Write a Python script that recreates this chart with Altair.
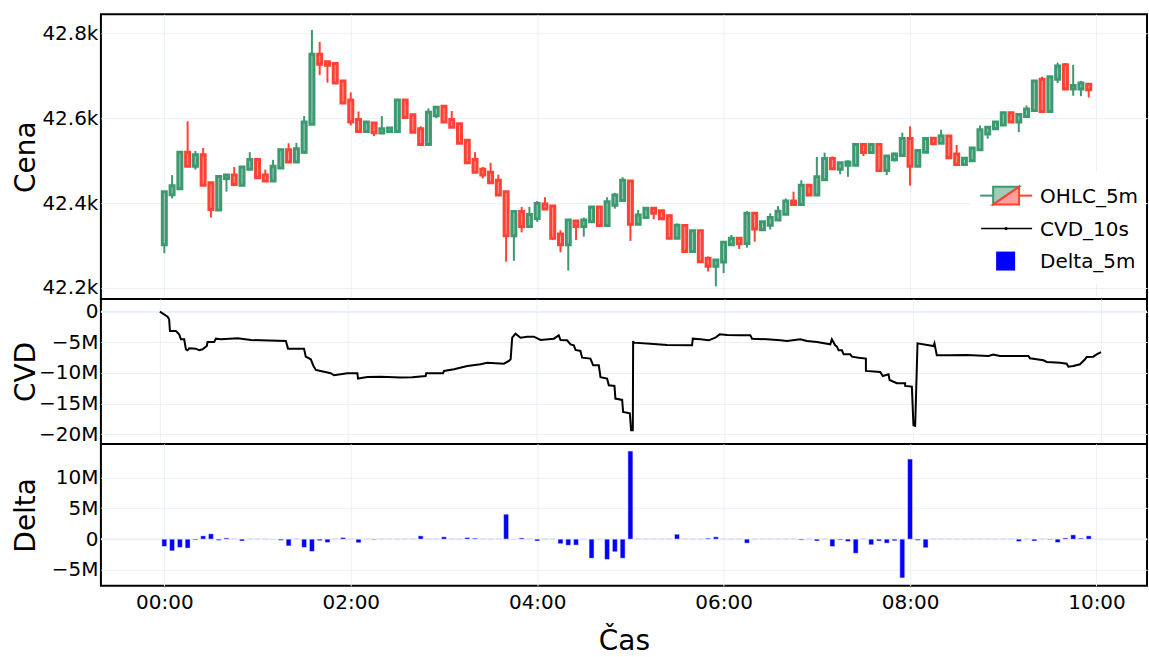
import altair as alt
import pandas as pd

# ---- 5-minute candles, 00:00 .. 09:55 ----
opens = [42302, 42420, 42434, 42520, 42487, 42514, 42448, 42384, 42458, 42466,
         42442, 42480, 42503, 42466, 42452, 42483, 42526, 42497, 42520, 42586,
         42751, 42733, 42729, 42688, 42643, 42597, 42569, 42589, 42565, 42569,
         42569, 42643, 42608, 42575, 42538, 42606, 42628, 42597, 42587, 42548,
         42503, 42480, 42473, 42454, 42427, 42323, 42380, 42345, 42364, 42398,
         42393, 42327, 42302, 42358, 42345, 42356, 42391, 42347, 42395, 42406,
         42452, 42350, 42366, 42388, 42382, 42370, 42317, 42347, 42286, 42335,
         42270, 42251, 42261, 42302, 42317, 42305, 42376, 42337, 42348, 42360,
         42374, 42405, 42397, 42442, 42419, 42455, 42505, 42480, 42489, 42489,
         42538, 42519, 42538, 42477, 42502, 42512, 42552, 42487, 42520, 42553,
         42541, 42558, 42516, 42491, 42500, 42526, 42563, 42575, 42584, 42613,
         42591, 42604, 42618, 42692, 42616, 42692, 42726, 42669, 42669, 42680]
highs = [42427, 42466, 42520, 42593, 42523, 42530, 42448, 42463, 42468, 42485,
         42487, 42520, 42505, 42479, 42502, 42528, 42541, 42542, 42605, 42808,
         42780, 42735, 42731, 42688, 42661, 42616, 42592, 42591, 42605, 42577,
         42643, 42643, 42608, 42581, 42623, 42626, 42630, 42617, 42587, 42550,
         42520, 42485, 42495, 42467, 42427, 42380, 42391, 42391, 42405, 42414,
         42393, 42336, 42360, 42358, 42366, 42391, 42391, 42414, 42424, 42461,
         42452, 42384, 42389, 42388, 42382, 42373, 42352, 42347, 42335, 42335,
         42274, 42266, 42308, 42325, 42317, 42381, 42376, 42358, 42376, 42393,
         42411, 42427, 42454, 42442, 42509, 42519, 42510, 42497, 42501, 42538,
         42538, 42540, 42538, 42513, 42519, 42566, 42581, 42526, 42554, 42553,
         42573, 42558, 42537, 42508, 42530, 42583, 42581, 42593, 42615, 42615,
         42611, 42630, 42688, 42698, 42698, 42731, 42730, 42726, 42688, 42682]
lows = [42282, 42411, 42434, 42487, 42479, 42442, 42366, 42384, 42427, 42444,
        42440, 42480, 42458, 42452, 42452, 42481, 42497, 42495, 42516, 42586,
        42702, 42684, 42683, 42636, 42583, 42569, 42569, 42558, 42564, 42569,
        42565, 42602, 42567, 42536, 42536, 42600, 42591, 42579, 42541, 42495,
        42471, 42458, 42448, 42419, 42262, 42264, 42331, 42345, 42356, 42386,
        42313, 42284, 42241, 42313, 42321, 42356, 42347, 42347, 42387, 42403,
        42311, 42348, 42364, 42362, 42363, 42317, 42317, 42286, 42286, 42262,
        42239, 42204, 42235, 42302, 42292, 42295, 42309, 42336, 42338, 42360,
        42374, 42397, 42397, 42417, 42419, 42455, 42481, 42468, 42462, 42487,
        42511, 42519, 42477, 42466, 42498, 42510, 42441, 42487, 42518, 42540,
        42541, 42507, 42491, 42491, 42500, 42524, 42552, 42575, 42584, 42591,
        42567, 42604, 42618, 42616, 42616, 42683, 42669, 42653, 42652, 42649]
closes = [42427, 42441, 42520, 42487, 42514, 42442, 42385, 42463, 42466, 42444,
          42485, 42503, 42460, 42452, 42487, 42526, 42497, 42528, 42591, 42751,
          42727, 42725, 42683, 42636, 42591, 42569, 42591, 42566, 42575, 42577,
          42643, 42602, 42567, 42538, 42614, 42626, 42591, 42579, 42541, 42495,
          42473, 42466, 42448, 42419, 42323, 42380, 42345, 42373, 42399, 42386,
          42317, 42302, 42360, 42345, 42360, 42391, 42347, 42403, 42419, 42454,
          42350, 42372, 42388, 42376, 42363, 42317, 42348, 42286, 42335, 42262,
          42251, 42266, 42308, 42317, 42304, 42376, 42339, 42356, 42366, 42381,
          42405, 42397, 42442, 42419, 42462, 42505, 42481, 42495, 42497, 42538,
          42519, 42538, 42477, 42511, 42516, 42552, 42487, 42524, 42552, 42540,
          42558, 42507, 42491, 42506, 42530, 42573, 42579, 42591, 42613, 42591,
          42609, 42622, 42688, 42616, 42698, 42723, 42669, 42677, 42683, 42667]

# ---- 5-minute delta, millions ----
delta_m = [-1.19, -1.9, -1.35, -1.46, -0.15, 0.54, 0.86, -0.2, 0.2, 0.05,
           -0.3, 0.05, 0.05, 0.05, -0.05, -0.2, -1.1, 0.05, -1.35, -2.0,
           -0.25, -0.55, 0.05, 0.27, 0.05, -0.6, 0.05, -0.1, 0.05, 0.05,
           0.05, 0.05, 0.05, 0.54, 0.05, 0.05, 0.38, 0.05, 0.05, 0.27,
           0.16, 0.05, 0.05, 0.05, 4.05, -0.05, 0.2, 0.05, -0.3, 0.05,
           0.05, -0.75, -1.0, -0.97, -0.05, -3.1, -0.05, -3.3, -2.05, -3.1,
           14.3, 0.05, 0.05, 0.05, 0.05, 0.05, 0.8, 0.05, 0.05, 0.05,
           0.16, 0.38, 0.05, 0.05, 0.05, -0.65, 0.05, 0.05, 0.05, 0.05,
           0.05, 0.05, -0.15, 0.05, -0.3, 0.05, -1.2, -0.15, -0.38, -2.3,
           0.05, -0.92, -0.3, -0.65, -0.27, -6.3, 13.0, -0.2, -1.4, 0.05,
           0.05, 0.05, 0.05, 0.05, 0.05, 0.05, 0.05, 0.05, 0.05, 0.05,
           -0.38, 0.05, -0.3, 0.05, -0.1, -0.54, 0.2, 0.7, 0.16, 0.54]

# ---- cumulative volume delta (10 s), minutes since 00:00 / millions ----
cvd_t = [0, 4.9, 5.9, 6.4, 10.2, 12.3, 13.4, 15.5, 16.6, 17.6,
         18.7, 22.9, 25.1, 27.2, 29.9, 30.4, 34.6, 35.7, 38.9, 49.5,
         58.0, 64.3, 80.3, 81.7, 91.9, 93.0, 96.2, 97.9, 99.4, 102.5,
         108.9, 111.0, 115.3, 119.5, 125.9, 126.3, 132.3, 140.8, 153.5, 160.9,
         169.4, 169.8, 180.5, 181.1, 187.5, 196.0, 204.4, 208.7, 219.3, 222.5,
         223.6, 224.6, 226.7, 229.9, 234.2, 238.4, 242.7, 251.2, 254.3, 255.4,
         259.6, 261.8, 263.9, 265.0, 268.1, 269.2, 274.5, 276.2, 279.8, 280.9,
         285.1, 286.2, 289.8, 290.4, 294.7, 295.3, 299.6, 300.4, 301.5, 301.7,
         302.1, 312.7, 323.3, 339.3, 339.7, 344.6, 349.9, 354.1, 356.9, 361.6,
         370.0, 376.4, 377.5, 387.0, 395.5, 399.8, 408.3, 412.5, 418.9, 427.4,
         428.4, 430.5, 431.6, 432.7, 434.8, 435.9, 440.1, 441.2, 445.4, 450.1,
         450.1, 459.2, 460.9, 464.5, 465.2, 469.8, 475.1, 475.1, 479.4, 480.4,
         481.5, 483.0, 493.2, 493.8, 495.3, 503.8, 514.4, 528.2, 531.4, 535.6,
         553.7, 554.7, 563.2, 565.4, 573.9, 578.1, 579.2, 582.3, 586.6, 589.8,
         590.8, 595.1, 597.2, 600.0]
cvd_m = [0, -0.82, -1.25, -3.15, -3.15, -3.70, -4.51, -4.51, -6.14, -6.30,
         -5.98, -6.03, -6.30, -6.14, -5.60, -4.95, -4.95, -4.40, -4.51, -4.35,
         -4.62, -4.67, -4.78, -6.03, -6.03, -7.34, -7.77, -8.86, -9.51, -9.67,
         -10.05, -10.38, -10.22, -10.05, -10.05, -10.92, -10.65, -10.60, -10.76, -10.71,
         -10.49, -10.05, -10.05, -9.67, -9.40, -8.86, -8.59, -8.32, -8.48, -8.04,
         -7.77, -4.24, -3.59, -4.24, -4.08, -4.08, -4.62, -4.40, -3.86, -4.62,
         -4.67, -5.33, -5.49, -6.25, -6.41, -7.50, -7.66, -8.75, -8.75, -10.68,
         -10.92, -12.01, -12.12, -14.18, -14.40, -16.36, -16.58, -19.35, -19.35, -4.78,
         -5.05, -5.22, -5.43, -5.49, -4.40, -4.51, -4.67, -4.24, -3.70, -3.80,
         -3.86, -3.86, -4.40, -4.51, -4.67, -4.78, -4.51, -4.78, -4.95, -5.33,
         -4.51, -5.49, -5.71, -6.30, -6.30, -6.96, -6.96, -7.34, -7.50, -7.66,
         -9.67, -9.84, -10.49, -10.22, -11.14, -11.68, -11.68, -12.12, -12.23, -18.53,
         -18.64, -5.16, -5.60, -5.16, -7.12, -7.12, -7.07, -7.23, -7.01, -7.23,
         -7.23, -7.61, -7.93, -8.21, -8.32, -8.48, -8.97, -8.86, -8.59, -7.77,
         -7.39, -7.34, -6.96, -6.58]

hour_ticks = [0, 120, 240, 360, 480, 600]
price_ticks = [42200, 42400, 42600, 42800]
cvd_ticks = [0, -5e6, -10e6, -15e6, -20e6]
delta_ticks = [-5e6, 0, 5e6, 10e6]

GREEN, RED = "#3D9970", "#FF4136"
GREEN_FILL, RED_FILL = "#9ECCB8", "#FFA09B"
GRID = "#EBF0F8"
FONT = "DejaVu Sans"

W = 1047
H_PRICE, H_CVD, H_DELTA = 285, 145, 142

candles = pd.DataFrame({
    "t": [5 * i for i in range(len(opens))],
    "open": opens, "high": highs, "low": lows, "close": closes,
})
candles["dir"] = ["up" if c >= o else "down" for o, c in zip(opens, closes)]
candles["body_lo"] = candles[["open", "close"]].min(axis=1)
candles["body_hi"] = candles[["open", "close"]].max(axis=1)

deltas = pd.DataFrame({"t": [5 * i for i in range(len(delta_m))],
                       "delta": [v * 1e6 for v in delta_m]})
cvd = pd.DataFrame({"t": cvd_t, "cvd": [v * 1e6 for v in cvd_m]})
one = pd.DataFrame({"k": [0]})
zero = pd.DataFrame({"z": [0]})

x_scale = alt.Scale(domain=[-37.6, 629.3], nice=False, zero=False)
grid_only_x = alt.Axis(values=hour_ticks, labels=False, ticks=False, domain=False,
                       title=None, grid=True)
bottom_x = alt.Axis(values=hour_ticks, ticks=False, domain=False, grid=True,
                    labelExpr="utcFormat(datum.value * 60000, '%H:%M')",
                    title="Čas", labelPadding=7, titlePadding=15)

SI_LABEL = "datum.value == 0 ? '0' : format(datum.value, '~s')"


def y_axis(title, values, fmt=None, expr=None):
    kw = dict(title=title, values=values, ticks=False, domain=False, labelPadding=3,
              minExtent=58, maxExtent=58, titlePadding=2, grid=True)
    if fmt:
        kw["format"] = fmt
    if expr:
        kw["labelExpr"] = expr
    return alt.Axis(**kw)


dir_stroke = alt.Stroke("dir:N", scale=alt.Scale(domain=["up", "down"], range=[GREEN, RED]),
                        legend=None)
dir_fill = alt.Fill("dir:N", scale=alt.Scale(domain=["up", "down"], range=[GREEN_FILL, RED_FILL]),
                    legend=None)

# ---- price panel ----
price_scale = alt.Scale(domain=[42174, 42845], nice=False, zero=False)
price_axis = y_axis("Cena", price_ticks, fmt=".3~s")
wicks = alt.Chart(candles).mark_rule(strokeWidth=2).encode(
    x=alt.X("t:Q", scale=x_scale, axis=grid_only_x),
    y=alt.Y("low:Q", scale=price_scale, axis=price_axis),
    y2="high:Q",
    stroke=dir_stroke,
)
bodies = alt.Chart(candles).mark_bar(size=4, strokeWidth=3).encode(
    x=alt.X("t:Q", scale=x_scale, axis=grid_only_x),
    y=alt.Y("body_lo:Q", scale=price_scale, axis=price_axis),
    y2="body_hi:Q",
    fill=dir_fill,
    stroke=dir_stroke,
)

# legend box drawn inside the price panel
TRI_UP = "M-1,-0.69 L1,-0.69 L-1,0.69 Z"
TRI_DN = "M1,-0.69 L1,0.69 L-1,0.69 Z"
legend_layers = [
    alt.Chart(one).mark_rect(color="white").encode(
        x=alt.value(870), x2=alt.value(1046), y=alt.value(157), y2=alt.value(270)),
    alt.Chart(one).mark_rule(color=GREEN, strokeWidth=2).encode(
        x=alt.value(880), x2=alt.value(893), y=alt.value(181.5)),
    alt.Chart(one).mark_rule(color=RED, strokeWidth=2).encode(
        x=alt.value(919), x2=alt.value(932), y=alt.value(181.5)),
    alt.Chart(one).mark_point(shape=TRI_UP, size=676, filled=True, fill=GREEN_FILL,
                              stroke=GREEN, strokeWidth=2, opacity=1).encode(
        x=alt.value(906), y=alt.value(181.5)),
    alt.Chart(one).mark_point(shape=TRI_DN, size=676, filled=True, fill=RED_FILL,
                              stroke=RED, strokeWidth=2, opacity=1).encode(
        x=alt.value(906), y=alt.value(181.5)),
    alt.Chart(one).mark_rule(color="black", strokeWidth=1.5).encode(
        x=alt.value(881), x2=alt.value(932), y=alt.value(214.5)),
    alt.Chart(one).mark_circle(color="black", size=10, opacity=1).encode(
        x=alt.value(906), y=alt.value(214.5)),
    alt.Chart(one).mark_square(color="#0000FF", size=361, opacity=1).encode(
        x=alt.value(905.5), y=alt.value(247)),
]
for label, ypos in [("OHLC_5m", 183), ("CVD_10s", 216), ("Delta_5m", 248)]:
    legend_layers.append(
        alt.Chart(one).mark_text(align="left", baseline="middle", font=FONT, fontSize=20,
                                 color="black").encode(
            x=alt.value(940), y=alt.value(ypos), text=alt.value(label)))

price_panel = alt.layer(wicks, bodies, *legend_layers).properties(width=W, height=H_PRICE)

# ---- CVD panel ----
cvd_scale = alt.Scale(domain=[-21.58e6, 2.07e6], nice=False, zero=False)
cvd_axis = y_axis("CVD", cvd_ticks, expr=SI_LABEL)
cvd_zero = alt.Chart(zero).mark_rule(color=GRID, strokeWidth=2).encode(
    y=alt.Y("z:Q", scale=cvd_scale, axis=cvd_axis))
cvd_line = alt.Chart(cvd).mark_line(color="black", strokeWidth=2).encode(
    x=alt.X("t:Q", scale=x_scale, axis=grid_only_x),
    y=alt.Y("cvd:Q", scale=cvd_scale, axis=cvd_axis),
)
cvd_panel = alt.layer(cvd_zero, cvd_line).properties(width=W, height=H_CVD)

# ---- delta panel ----
delta_scale = alt.Scale(domain=[-7.57e6, 15.46e6], nice=False, zero=False)
delta_axis = y_axis("Delta", delta_ticks, expr=SI_LABEL)
delta_zero = alt.Chart(zero).mark_rule(color=GRID, strokeWidth=2).encode(
    y=alt.Y("z:Q", scale=delta_scale, axis=delta_axis))
delta_bars = alt.Chart(deltas).mark_bar(size=5, color="#0000FF", stroke="white",
                                        strokeWidth=0.5).encode(
    x=alt.X("t:Q", scale=x_scale, axis=bottom_x),
    y=alt.Y("delta:Q", scale=delta_scale, axis=delta_axis),
)
delta_panel = alt.layer(delta_zero, delta_bars).properties(width=W, height=H_DELTA)

chart = (
    alt.vconcat(price_panel, cvd_panel, delta_panel, spacing=0, bounds="flush")
    .properties(padding={"left": 12, "top": 13, "right": 0, "bottom": 0},
                background="white")
    .configure_view(stroke="black", strokeWidth=2)
    .configure_axis(gridColor=GRID, gridWidth=1, labelFont=FONT, labelFontSize=20,
                    labelColor="black", titleFont=FONT, titleFontSize=28,
                    titleFontWeight="normal", titleColor="black")
)

chart.save("out.html", embed_options={"renderer": "svg", "actions": False})
